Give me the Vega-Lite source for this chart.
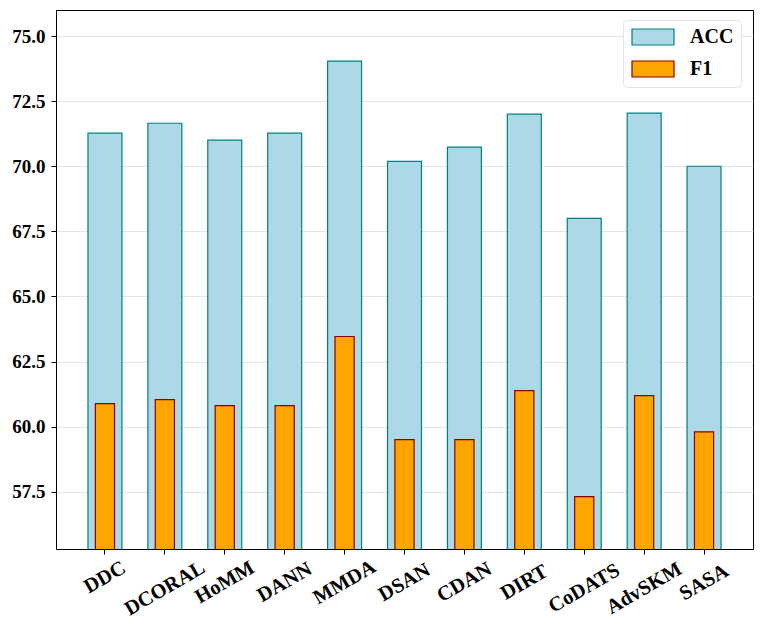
{
  "$schema": "https://vega.github.io/schema/vega-lite/v6.json",
  "width": 697,
  "height": 539,
  "autosize": {"type": "none"},
  "padding": {"left": 56, "top": 10, "right": 10, "bottom": 81},
  "background": "white",
  "data": {
    "values": [
      {"method": "DDC", "metric": "ACC", "value": 71.27},
      {"method": "DCORAL", "metric": "ACC", "value": 71.65},
      {"method": "HoMM", "metric": "ACC", "value": 71.0},
      {"method": "DANN", "metric": "ACC", "value": 71.27},
      {"method": "MMDA", "metric": "ACC", "value": 74.04},
      {"method": "DSAN", "metric": "ACC", "value": 70.19},
      {"method": "CDAN", "metric": "ACC", "value": 70.73},
      {"method": "DIRT", "metric": "ACC", "value": 72.0},
      {"method": "CoDATS", "metric": "ACC", "value": 68.0},
      {"method": "AdvSKM", "metric": "ACC", "value": 72.04},
      {"method": "SASA", "metric": "ACC", "value": 70.0},
      {"method": "DDC", "metric": "F1", "value": 60.88},
      {"method": "DCORAL", "metric": "F1", "value": 61.04},
      {"method": "HoMM", "metric": "F1", "value": 60.81},
      {"method": "DANN", "metric": "F1", "value": 60.81},
      {"method": "MMDA", "metric": "F1", "value": 63.46},
      {"method": "DSAN", "metric": "F1", "value": 59.5},
      {"method": "CDAN", "metric": "F1", "value": 59.5},
      {"method": "DIRT", "metric": "F1", "value": 61.38},
      {"method": "CoDATS", "metric": "F1", "value": 57.31},
      {"method": "AdvSKM", "metric": "F1", "value": 61.19},
      {"method": "SASA", "metric": "F1", "value": 59.8}
    ]
  },
  "encoding": {
    "x": {
      "field": "method",
      "type": "nominal",
      "sort": null,
      "title": null,
      "scale": {"paddingInner": 0, "paddingOuter": 0.317},
      "axis": {
        "labelAngle": -30,
        "labelAlign": "center",
        "labelBaseline": "middle",
        "labelPadding": {
          "condition": [
            {"test": "length(datum.label) == 3", "value": 23},
            {"test": "length(datum.label) == 6", "value": 34}
          ],
          "value": 28
        },
        "labelFont": "Liberation Serif",
        "labelFontWeight": "bold",
        "labelFontSize": 20.5,
        "labelColor": "black",
        "tickColor": "black",
        "tickSize": 5,
        "domainColor": "black",
        "grid": false
      }
    },
    "y": {
      "field": "value",
      "type": "quantitative",
      "title": null,
      "scale": {"domain": [55.3, 76], "nice": false, "zero": false},
      "axis": {
        "values": [57.5, 60, 62.5, 65, 67.5, 70, 72.5, 75],
        "format": ".1f",
        "labelFont": "Liberation Serif",
        "labelFontWeight": "bold",
        "labelFontSize": 19,
        "labelColor": "black",
        "labelPadding": 6,
        "tickColor": "black",
        "tickSize": 5,
        "domainColor": "black",
        "gridColor": "#dddddd",
        "gridWidth": 0.8
      }
    },
    "color": {
      "field": "metric",
      "type": "nominal",
      "scale": {"domain": ["ACC", "F1"], "range": ["#ADD8E6", "#FFA500"]},
      "legend": {
        "title": null,
        "orient": "none",
        "legendX": 567,
        "legendY": 10,
        "symbolType": "M-1,-1H4.25V1H-1Z",
        "symbolSize": 256,
        "symbolStrokeWidth": 1.2,
        "symbolOpacity": 1,
        "labelFont": "Liberation Serif",
        "labelFontWeight": "bold",
        "labelFontSize": 20,
        "labelColor": "black",
        "labelOffset": 40,
        "rowPadding": 10,
        "padding": 7,
        "fillColor": "white",
        "strokeColor": "#e4e4e4",
        "cornerRadius": 4
      }
    },
    "stroke": {
      "field": "metric",
      "type": "nominal",
      "scale": {"domain": ["ACC", "F1"], "range": ["#008080", "#8B0000"]},
      "legend": null
    }
  },
  "layer": [
    {
      "transform": [{"filter": "datum.metric === 'ACC'"}],
      "mark": {"type": "bar", "width": {"band": 0.567}, "strokeWidth": 1.2, "opacity": 1, "clip": true}
    },
    {
      "transform": [{"filter": "datum.metric === 'F1'"}],
      "mark": {"type": "bar", "width": {"band": 0.32}, "strokeWidth": 1.2, "opacity": 1, "clip": true}
    }
  ],
  "config": {
    "view": {"stroke": "black", "strokeWidth": 1}
  }
}
